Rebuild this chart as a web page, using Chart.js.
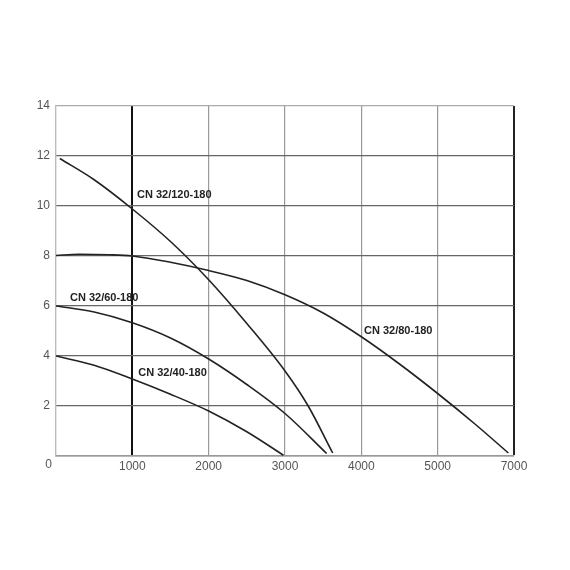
<!DOCTYPE html>
<html>
<head>
<meta charset="utf-8">
<script src="https://cdn.jsdelivr.net/npm/chart.js@4/dist/chart.umd.min.js"></script>
<style>
  body { margin: 0; background: #fff; }
  #wrap { width: 570px; height: 570px; }
</style>
</head>
<body>
<div id="wrap"><canvas id="pump-curves" width="570" height="570"></canvas></div>
<script>
// tick labels as printed on the sheet (last gridline is labelled 7000)
const xTickLabels = ["0", "1000", "2000", "3000", "4000", "5000", "7000"];
const yTickLabels = ["0", "2", "4", "6", "8", "10", "12", "14"];

const curveNames = ["CN 32/120-180", "CN 32/80-180", "CN 32/60-180", "CN 32/40-180"];

// flow values (x, gridline units) and head values (y)
const flow120 = [50, 500, 1000, 1500, 2000, 2500, 3000, 3300, 3625];
const head120 = [11.9, 11.05, 9.88, 8.58, 7.05, 5.3, 3.4, 2.02, 0.12];

const flow80 = [0, 300, 700, 1000, 1500, 2000, 2500, 3000, 3500, 4000, 4500, 5000, 5500, 5926];
const head80 = [8.02, 8.07, 8.05, 8.0, 7.75, 7.42, 7.02, 6.45, 5.72, 4.77, 3.68, 2.5, 1.25, 0.12];

const flow60 = [0, 500, 1000, 1500, 2000, 2500, 3000, 3546];
const head60 = [6.0, 5.76, 5.33, 4.72, 3.88, 2.86, 1.7, 0.1];

const flow40 = [0, 500, 1000, 1500, 2000, 2500, 2980];
const head40 = [4.0, 3.63, 3.08, 2.47, 1.8, 0.97, 0.03];

const toPoints = (xs, ys) => xs.map((x, i) => ({ x: x, y: ys[i] }));

const curve = (label, xs, ys) => ({
    label: label,
    data: toPoints(xs, ys),
    showLine: true,
    borderColor: "#222",
    borderWidth: 1.6,
    pointRadius: 0,
    cubicInterpolationMode: "monotone",
    fill: false,
});

// where each curve name is written (data coordinates, left / middle of text)
const labelAnchors = [
    { x: 1061, y: 10.45 },
    { x: 4035, y: 5.0 },
    { x: 183, y: 6.33 },
    { x: 1078, y: 3.33 },
];

const tickFont = { family: "Arial, 'Liberation Sans', sans-serif", size: 12 };

const curveLabels = {
    id: "curveLabels",
    afterDatasetsDraw(chart) {
        const { ctx, scales } = chart;
        ctx.save();
        ctx.fillStyle = "#222";
        ctx.font = "bold 11px Arial, 'Liberation Sans', sans-serif";
        ctx.textBaseline = "middle";
        ctx.textAlign = "left";
        curveNames.forEach((name, i) => {
            const a = labelAnchors[i];
            ctx.fillText(name, scales.x.getPixelForValue(a.x), scales.y.getPixelForValue(a.y));
        });
        // shared origin label, sits left of the corner on the x label row
        ctx.fillStyle = "#555";
        ctx.font = "12px Arial, 'Liberation Sans', sans-serif";
        ctx.textAlign = "right";
        ctx.textBaseline = "top";
        ctx.fillText(xTickLabels[0], chart.chartArea.left - 4, chart.chartArea.bottom + 3);
        ctx.restore();
    },
};

const pumpChart = new Chart(document.querySelector("#pump-curves").getContext("2d"), {
    type: "scatter",
    data: {
        datasets: [
            curve(curveNames[0], flow120, head120),
            curve(curveNames[1], flow80, head80),
            curve(curveNames[2], flow60, head60),
            curve(curveNames[3], flow40, head40),
        ],
    },
    options: {
        responsive: false,
        animation: false,
        layout: {
            padding: { top: 106, right: 56, bottom: 84, left: 0 },
        },
        scales: {
            x: {
                type: "linear",
                min: 0,
                max: 6000,
                afterFit: (scale) => { scale.height = 30; },
                ticks: {
                    stepSize: 1000,
                    color: "#555",
                    font: tickFont,
                    padding: 3,
                    maxRotation: 0,
                    callback: (value, index) => (index === 0 ? "" : xTickLabels[index]),
                },
                grid: {
                    drawTicks: false,
                    color: (c) => {
                        if (c.tick.value === 1000) return "#111";
                        if (c.tick.value === 6000) return "#222";
                        if (c.tick.value === 0) return "#bbb";
                        return "#999";
                    },
                    lineWidth: (c) => (c.tick.value === 1000 || c.tick.value === 6000 ? 2 : 1.2),
                },
                border: { color: "#999", width: 1.5 },
            },
            y: {
                min: 0,
                max: 14,
                afterFit: (scale) => { scale.width = 56; },
                ticks: {
                    stepSize: 2,
                    color: "#555",
                    font: tickFont,
                    padding: 6,
                    callback: (value, index) => (index === 0 ? "" : yTickLabels[index]),
                },
                grid: {
                    drawTicks: false,
                    color: (c) => (c.tick.value === 14 ? "#aaa" : "#666"),
                    lineWidth: 1.2,
                },
                border: { color: "#bbb", width: 1.2 },
            },
        },
        plugins: {
            legend: { display: false },
            tooltip: { enabled: false },
        },
    },
    plugins: [curveLabels],
});
</script>
</body>
</html>
